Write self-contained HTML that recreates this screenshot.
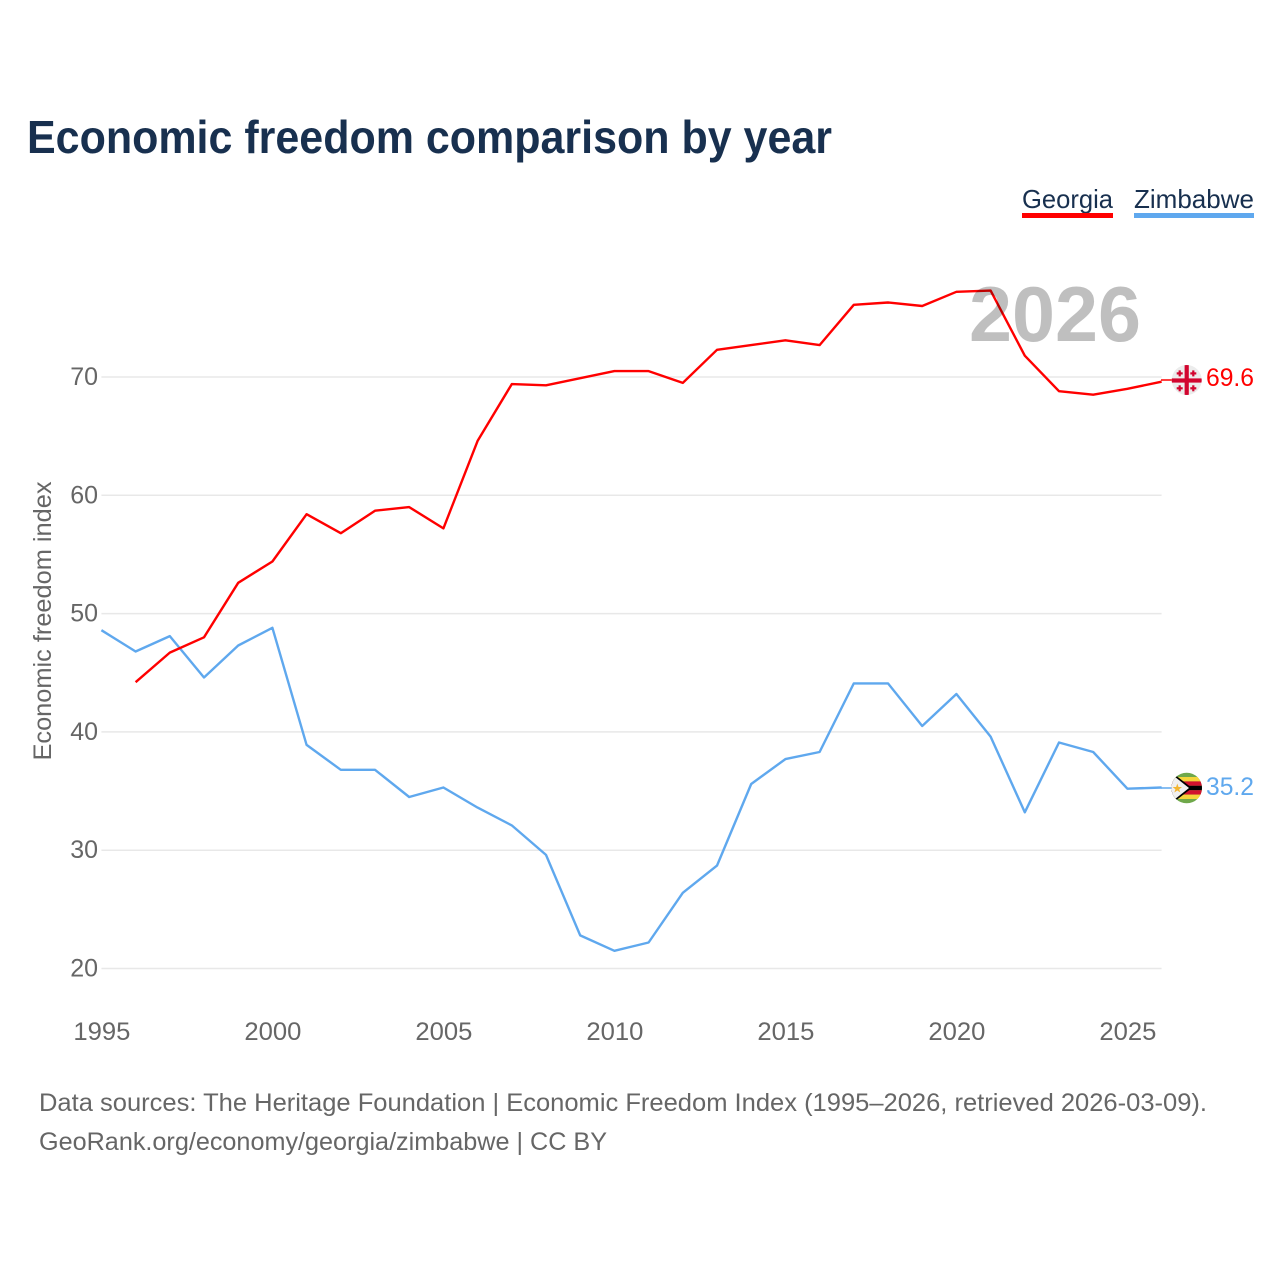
<!DOCTYPE html>
<html>
<head>
<meta charset="utf-8">
<title>Economic freedom comparison by year</title>
<style>
html,body{margin:0;padding:0;background:#fff;width:1280px;height:1280px;overflow:hidden}
svg{display:block}
text{font-family:"Liberation Sans",sans-serif}
</style>
</head>
<body>
<svg id="chart" width="1280" height="1280" viewBox="0 0 1280 1280" xmlns="http://www.w3.org/2000/svg">
<defs>
<clipPath id="flag-clip-ge"><circle cx="1186.7" cy="380" r="15"/></clipPath>
<clipPath id="flag-clip-zw"><circle cx="1186.7" cy="788" r="15.3"/></clipPath>
</defs>
<text x="27" y="153" font-size="46" font-weight="700" fill="#18304f" textLength="805" lengthAdjust="spacingAndGlyphs">Economic freedom comparison by year</text>

<g>
<text x="1022" y="208" font-size="26" fill="#18304f" textLength="91" lengthAdjust="spacingAndGlyphs">Georgia</text>
<rect x="1022" y="213" width="91" height="5" fill="#ff0000"/>
</g>
<g>
<text x="1134" y="208" font-size="26" fill="#18304f" textLength="120" lengthAdjust="spacingAndGlyphs">Zimbabwe</text>
<rect x="1134" y="213" width="120" height="5" fill="#5fa8ee"/>
</g>

<text transform="translate(51,621) rotate(-90)" text-anchor="middle" font-size="25" fill="#666666" textLength="279" lengthAdjust="spacingAndGlyphs">Economic freedom index</text>

<g id="grid"></g>
<g id="yticks"></g>
<g id="xticks"></g>
<g id="series"></g>

<text x="1055" y="341" text-anchor="middle" font-size="78" font-weight="700" fill="#000000" fill-opacity="0.25" textLength="172" lengthAdjust="spacingAndGlyphs">2026</text>

<line x1="1161" y1="380" x2="1172" y2="380" stroke="#ff0000" stroke-width="1.5"/>
<line x1="1161" y1="788" x2="1172" y2="788" stroke="#5fa8ee" stroke-width="1.5"/>

<g clip-path="url(#flag-clip-ge)">
<rect x="1171" y="364" width="32" height="32" fill="#ececec"/>
<rect x="1184.6" y="364" width="4.2" height="32" fill="#d2052f"/>
<rect x="1171" y="378.4" width="32" height="4.2" fill="#d2052f"/>
<g fill="#d2052f">
<rect x="1176.7" y="372.3" width="6" height="2.2"/><rect x="1178.6" y="370.4" width="2.2" height="6"/>
<rect x="1190.3" y="372.3" width="6" height="2.2"/><rect x="1192.2" y="370.4" width="2.2" height="6"/>
<rect x="1176.7" y="387.2" width="6" height="2.2"/><rect x="1178.6" y="385.3" width="2.2" height="6"/>
<rect x="1190.3" y="387.2" width="6" height="2.2"/><rect x="1192.2" y="385.3" width="2.2" height="6"/>
</g>
</g>
<text x="1206" y="386" font-size="25" fill="#ff0000" textLength="48" lengthAdjust="spacingAndGlyphs">69.6</text>

<g clip-path="url(#flag-clip-zw)">
<rect x="1171" y="772" width="32" height="32" fill="#6fa84a"/>
<rect x="1171" y="777" width="32" height="4.4" fill="#f5d53a"/>
<rect x="1171" y="781.4" width="32" height="4.4" fill="#d2122e"/>
<rect x="1171" y="785.8" width="32" height="4.4" fill="#000000"/>
<rect x="1171" y="790.2" width="32" height="4.4" fill="#d2122e"/>
<rect x="1171" y="794.6" width="32" height="4.4" fill="#f5d53a"/>
<polygon points="1170,771 1192,788 1170,805" fill="#000000"/>
<polygon points="1170,773 1189,788 1170,803" fill="#f0f0f0"/>
<polygon points="1177.3,783.5 1178.5,787 1182,787 1179.2,789.2 1180.3,792.5 1177.3,790.5 1174.3,792.5 1175.4,789.2 1172.6,787 1176.1,787" fill="#f2b632"/>
</g>
<text x="1206" y="795" font-size="25" fill="#5fa8ee" textLength="48" lengthAdjust="spacingAndGlyphs">35.2</text>

<text x="39" y="1111" font-size="25" fill="#666666" textLength="1168" lengthAdjust="spacingAndGlyphs">Data sources: The Heritage Foundation | Economic Freedom Index (1995–2026, retrieved 2026-03-09).</text>
<text x="39" y="1150" font-size="25" fill="#666666" textLength="568" lengthAdjust="spacingAndGlyphs">GeoRank.org/economy/georgia/zimbabwe | CC BY</text>
</svg>
<script>
var years = [1995,1996,1997,1998,1999,2000,2001,2002,2003,2004,2005,2006,2007,2008,2009,2010,2011,2012,2013,2014,2015,2016,2017,2018,2019,2020,2021,2022,2023,2024,2025,2026];
var georgiaValues = [null,44.2,46.7,48.0,52.6,54.4,58.4,56.8,58.7,59.0,57.2,64.6,69.4,69.3,69.9,70.5,70.5,69.5,72.3,72.7,73.1,72.7,76.1,76.3,76.0,77.2,77.3,71.8,68.8,68.5,69.0,69.6];
var zimbabweValues = [48.6,46.8,48.1,44.6,47.3,48.8,38.9,36.8,36.8,34.5,35.3,33.6,32.1,29.6,22.8,21.5,22.2,26.4,28.7,35.6,37.7,38.3,44.1,44.1,40.5,43.2,39.6,33.2,39.1,38.3,35.2,35.3];
var yTickValues = [20,30,40,50,60,70];
var xTickValues = [1995,2000,2005,2010,2015,2020,2025];

var NS = 'http://www.w3.org/2000/svg';
function xScale(year){ return 101.4 + (year - 1995) * 34.2; }
function yScale(value){ return 377 + (70 - value) * 11.83; }

var gridGroup = document.getElementById('grid');
var yGroup = document.getElementById('yticks');
var xGroup = document.getElementById('xticks');
var seriesGroup = document.getElementById('series');

yTickValues.forEach(function(v){
  var line = document.createElementNS(NS, 'line');
  
  
  line.setAttribute('x1', xScale(1995));
  line.setAttribute('x2', xScale(2026));
  line.setAttribute('y1', yScale(v));
  line.setAttribute('y2', yScale(v));
  line.setAttribute('stroke', '#e8e8e8');
  line.setAttribute('stroke-width', '1.5');
  gridGroup.appendChild(line);
  var label = document.createElementNS(NS, 'text');
  
  
  label.setAttribute('x', 98);
  label.setAttribute('y', yScale(v) + 8);
  label.setAttribute('text-anchor', 'end');
  label.setAttribute('font-size', '25');
  label.setAttribute('fill', '#666666');
  label.textContent = v;
  yGroup.appendChild(label);
});

xTickValues.forEach(function(y){
  var label = document.createElementNS(NS, 'text');
  
  
  label.setAttribute('x', xScale(y) + 0.5);
  label.setAttribute('y', 1040);
  label.setAttribute('text-anchor', 'middle');
  label.setAttribute('font-size', '25');
  label.setAttribute('fill', '#666666');
  label.setAttribute('textLength', '57');
  label.setAttribute('lengthAdjust', 'spacingAndGlyphs');
  label.textContent = y;
  xGroup.appendChild(label);
});

function drawLine(values, color, name){
  var pts = [];
  values.forEach(function(v, i){
    if (v !== null) pts.push(xScale(years[i]).toFixed(1) + ',' + yScale(v).toFixed(1));
  });
  var line = document.createElementNS(NS, 'polyline');
  
  
  line.setAttribute('points', pts.join(' '));
  line.setAttribute('fill', 'none');
  line.setAttribute('stroke', color);
  line.setAttribute('stroke-width', '2.4');
  line.setAttribute('stroke-linejoin', 'round');
  seriesGroup.appendChild(line);
}
drawLine(zimbabweValues, '#5fa8ee', 'line-zimbabwe');
drawLine(georgiaValues, '#ff0000', 'line-georgia');
</script>
</body>
</html>
